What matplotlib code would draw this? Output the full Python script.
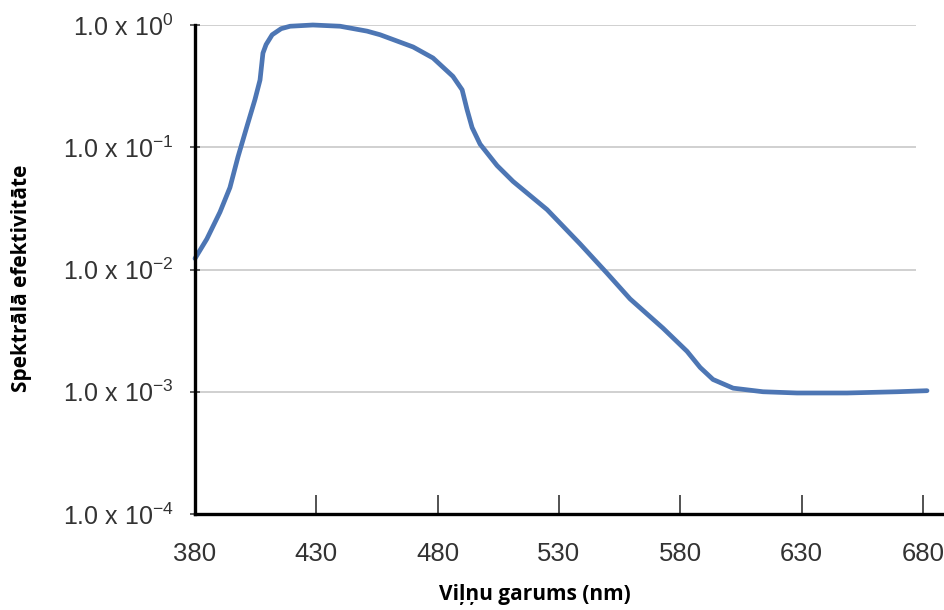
import matplotlib as mpl
mpl.use('Agg')
import matplotlib.pyplot as plt

# spectral efficiency curve
wavelength = [380, 384.9, 390.3, 394.4, 397.7, 401.4, 404.7, 406.8, 408.0, 409.3,
              411.8, 415.5, 419.2, 428.6, 439.8, 450.9, 456.3, 469.9, 478.1, 486.3,
              490.1, 492.1, 494.2, 497.5, 504.5, 511.1, 525.1, 538.7, 549.8, 559.3,
              572.9, 582.8, 588.2, 593.5, 601.8, 614.1, 628.1, 648.8, 669.4, 681.7]
efficiency = [0.0123, 0.0178, 0.0295, 0.0468, 0.0832, 0.148, 0.245, 0.355, 0.589, 0.692,
              0.832, 0.933, 0.977, 1.0, 0.977, 0.891, 0.832, 0.661, 0.537, 0.380,
              0.295, 0.204, 0.145, 0.106, 0.0708, 0.0525, 0.0309, 0.0162, 0.00933, 0.00575,
              0.00331, 0.00214, 0.00158, 0.00126, 0.00107, 0.00100, 0.000977, 0.000977, 0.00100, 0.00102]

xticks = [380, 430, 480, 530, 580, 630, 680]
yticks = [1e-4, 1e-3, 1e-2, 1e-1, 1e0]
ytick_labels = [r'1.0 x 10$^{\mathregular{-4}}$', r'1.0 x 10$^{\mathregular{-3}}$',
                r'1.0 x 10$^{\mathregular{-2}}$', r'1.0 x 10$^{\mathregular{-1}}$',
                r'1.0 x 10$^{\mathregular{0}}$']
xlabel = 'Viļņu garums (nm)'
ylabel = 'Spektrālā efektivitāte'

plt.rcParams['font.family'] = ['Liberation Sans', 'DejaVu Sans']
plt.rcParams['mathtext.fontset'] = 'custom'
plt.rcParams['mathtext.rm'] = 'Liberation Sans'

fig = plt.figure(figsize=(9.44, 6.10), dpi=100)
ax = fig.add_axes([195/944, 1-514/610, 1-195/944, (514-25)/610])

ax.set_yscale('log')
ax.set_xlim(380, 688.7)
ax.set_ylim(1e-4, 1.0)

# grid lines stop short of the right edge
ax.hlines(yticks[1:], 380, 677, color='#c8c8c8', linewidth=1.2, zorder=1)

ax.plot(wavelength, efficiency, color='#4d76b4', linewidth=3.4,
        solid_joinstyle='round', solid_capstyle='round', zorder=3, clip_on=False)

for s in ['top', 'right']:
    ax.spines[s].set_visible(False)
for s in ['left', 'bottom']:
    ax.spines[s].set_linewidth(2.4)
    ax.spines[s].set_color('black')
    ax.spines[s].set_zorder(4)

ax.set_xticks(xticks)
ax.set_xticklabels([str(t) for t in xticks])
ax.set_yticks(yticks)
ax.set_yticklabels(ytick_labels)
ax.yaxis.set_minor_locator(mpl.ticker.NullLocator())

ax.tick_params(axis='x', direction='in', length=14, width=1.3, color='#444444',
               labelsize=18.5, labelcolor='#333333', pad=20)
ax.tick_params(axis='y', direction='inout', length=7, width=1.2, color='#444444',
               labelsize=18, labelcolor='#333333', pad=12)

ax.set_xlabel(xlabel, fontsize=15, fontweight='bold', family=['Open Sans', 'DejaVu Sans'])
ax.xaxis.set_label_coords((535-195)/749, -(584-514)/489)
ax.set_ylabel(ylabel, fontsize=15, fontweight='bold', family=['Open Sans', 'DejaVu Sans'])
ax.yaxis.set_label_coords(-(195-32)/749, (514-278)/489)

plt.savefig('out.png', dpi=100)
